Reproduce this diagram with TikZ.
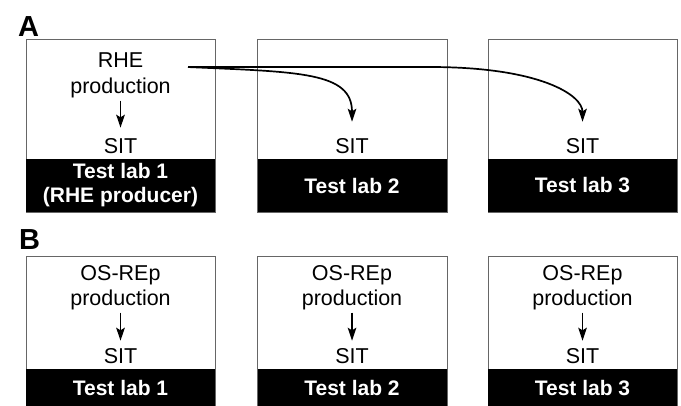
\documentclass[tikz,border=0pt]{standalone}
\usepackage{fontspec}
\setmainfont{Liberation Sans}
\usetikzlibrary{arrows.meta}

\begin{document}
\begin{tikzpicture}[x=1pt, y=-1pt,
        txt/.style={anchor=base, inner sep=2pt, font=\fontsize{21.5}{25}\selectfont},
        bar/.style={fill=black, text=white, inner sep=0pt, minimum width=189pt, align=center, font=\fontsize{21}{24}\selectfont\bfseries},
        panel/.style={anchor=base west, inner sep=0pt, font=\fontsize{29}{29}\selectfont\bfseries},
        frame/.style={draw=black!60, line width=0.9pt},
        flow/.style={-{Stealth[length=13pt, width=8.5pt, inset=2.5pt]}, line width=1.7pt, shorten >=8pt, shorten <=1pt}]
        \useasboundingbox (0,0) rectangle (681,405);

        % panel A
        \node[panel] (panelA) at (18,36) {A};
        \draw[frame] (26,39) rectangle (215,212);
        \draw[frame] (257,39) rectangle (447,212);
        \draw[frame] (488,39) rectangle (677,212);

        \node[txt] (rhe1A) at (120.5,67) {RHE};
        \node[txt] (prod1A) at (120.5,93) {production};
        \node[txt] (sit1A) at (120.5,153) {SIT};
        \node[txt] (sit2A) at (352,153) {SIT};
        \node[txt] (sit3A) at (582.5,153) {SIT};

        \node[bar, minimum height=53pt] (lab1A) at (120.5,185.5) {Test lab 1\\(RHE producer)};
        \node[bar, minimum height=53pt] (lab2A) at (352,185.5) {Test lab 2};
        \node[bar, minimum height=53pt] (lab3A) at (582.5,185.5) {Test lab 3};

        % RHE sent to the other labs
        \coordinate (rheout) at (187,67);
        \draw[flow] (prod1A.south) -- (sit1A.north);
        \draw[flow, shorten >=14pt] (rheout) .. controls (300,72) and (352,72) .. (sit2A.north);
        \draw[flow, shorten >=14pt] (rheout) -- (430,67) .. controls (540,67) and (582.5,95) .. (sit3A.north);

        % panel B
        \node[panel] (panelB) at (19,249) {B};
        \draw[frame] (26,256) rectangle (215,410);
        \draw[frame] (257,256) rectangle (447,410);
        \draw[frame] (488,256) rectangle (677,410);

        \node[txt] (os1B) at (120.5,280) {OS-REp};
        \node[txt] (prod1B) at (120.5,305) {production};
        \node[txt] (sit1B) at (120.5,363) {SIT};
        \node[txt] (os2B) at (352,280) {OS-REp};
        \node[txt] (prod2B) at (352,305) {production};
        \node[txt] (sit2B) at (352,363) {SIT};
        \node[txt] (os3B) at (582.5,280) {OS-REp};
        \node[txt] (prod3B) at (582.5,305) {production};
        \node[txt] (sit3B) at (582.5,363) {SIT};

        \node[bar, minimum height=38pt] (lab1B) at (120.5,388) {Test lab 1};
        \node[bar, minimum height=38pt] (lab2B) at (352,388) {Test lab 2};
        \node[bar, minimum height=38pt] (lab3B) at (582.5,388) {Test lab 3};

        % own production in every lab
        \draw[flow, shorten >=5pt] (prod1B.south) -- (sit1B.north);
        \draw[flow, shorten >=5pt] (prod2B.south) -- (sit2B.north);
        \draw[flow, shorten >=5pt] (prod3B.south) -- (sit3B.north);
\end{tikzpicture}
\end{document}
